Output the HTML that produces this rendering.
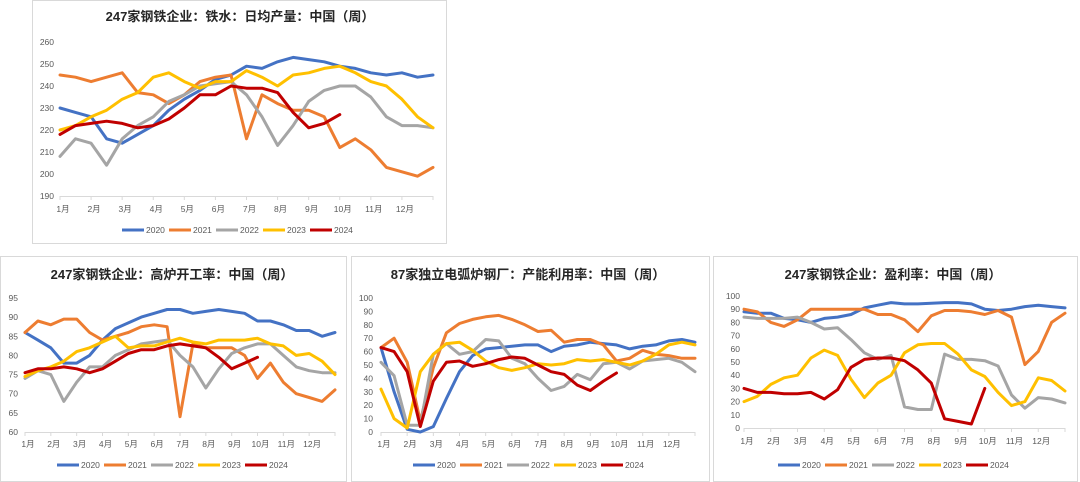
<!DOCTYPE html>
<html><head><meta charset="utf-8">
<style>
html,body{margin:0;padding:0;background:#fff;}
svg{display:block;font-family:"Liberation Sans","Noto Sans CJK SC",sans-serif;}
</style></head>
<body>
<svg id="root" width="1080" height="482" viewBox="0 0 1080 482"></svg>
<script>
// ---- shared data ----
const months = ['1月','2月','3月','4月','5月','6月','7月','8月','9月','10月','11月','12月'];
const seriesNames = ['2020','2021','2022','2023','2024'];
const seriesColors = ['#4472C4','#ED7D31','#A5A5A5','#FFC000','#C00000'];

// Chart 1: 铁水日均产量 (values at half-month steps)
const c1Ticks = [190,200,210,220,230,240,250,260];
const c1s2020 = [230,228,226,216,214,218,222,229,234,238,243,245,249,248,251,253,252,251,249,248,246,245,246,244,245];
const c1s2021 = [245,244,242,244,246,237,236,232,236,242,244,245,216,236,232,229,229,226,212,216,211,203,201,199,203];
const c1s2022 = [208,216,214,204,216,222,226,233,236,240,241,242,236,226,213,222,233,238,240,240,235,226,222,222,221];
const c1s2023 = [220,222,226,229,234,237,244,246,242,239,242,242,247,244,240,245,246,248,249,246,242,240,234,226,221];
const c1s2024 = [218,222,223,224,223,221,222,225,230,236,236,240,239,239,237,228,221,223,227];

// Chart 2: 高炉开工率
const c2Ticks = [60,65,70,75,80,85,90,95];
const c2s2020 = [86,84,82,78,78,80,84,87,88.5,90,91,92,92,91,91.5,92,91.5,91,89,89,88,86.5,86.5,85,86];
const c2s2021 = [86,89,88,89.5,89.5,86,84,85,86,87.5,88,87.5,64,83,82,82,82,80,74,78,73,70,69,68,71];
const c2s2022 = [74,76,75,68,73,77,77,80,81.5,83,83.5,84,80,77,71.5,76.5,80.5,82,83,83,80,77,76,75.5,75.5];
const c2s2023 = [74.5,76,77,78.5,81,82,83.5,85,82,82.5,82.5,83.5,84.5,83.5,83,84,84,84,84.5,83,82.5,80,80.5,78.5,75];
const c2s2024 = [75.5,76.5,76.5,77,76.5,75.5,76.5,78.5,80.5,81.5,81.5,82.5,83,82.5,82,79.5,76.5,78,79.5];

// Chart 3: 电弧炉产能利用率
const c3Ticks = [0,10,20,30,40,50,60,70,80,90,100];
const c3s2020 = [63,30,2,0,4,25,45,57,62,63,64,65,65,60,64,65,67,66,65,62,64,65,68,69,67];
const c3s2021 = [63,70,52,8,48,74,81,84,86,87,84,80,75,76,67,69,69,65,53,55,61,58,57,55,55];
const c3s2022 = [52,42,5,5,58,66,58,60,69,68,55,51,40,31,34,43,39,51,52,47,53,54,55,52,45];
const c3s2023 = [32,10,3,45,58,66,67,61,53,48,46,48,51,50,51,54,53,54,52,50,53,58,65,67,65];
const c3s2024 = [63,60,45,4,38,52,53,49,51,54,56,55,50,45,43,35,31,38,44];

// Chart 4: 盈利率
const c4Ticks = [0,10,20,30,40,50,60,70,80,90,100];
const c4s2020 = [88,87,87,83,82,80,83,84,86,91,93,95,94,94,94.5,95,95,94,90,89,90,92,93,92,91];
const c4s2021 = [90,88,80,77,82,90,90,90,90,90,86,86,82,73,85,89,89,88,86,89,84,48,58,80,87];
const c4s2022 = [84,83,83,83,84,80,75,76,67,57,52,55,16,14,14,56,52,52,51,47,25,15,23,22,19];
const c4s2023 = [20,24,33,38,40,53,59,55,37,23,34,40,57,63,64,64,56,44,39,27,17,20,38,36,28];
const c4s2024 = [30,27,27,26,26,27,22,29,46,52,53,53,51,44,34,7,5,3,30];

const NS='http://www.w3.org/2000/svg';
const root=document.getElementById('root');
function mk(tag,attrs,parent){const e=document.createElementNS(NS,tag);for(const k in attrs)e.setAttribute(k,attrs[k]);(parent||root).appendChild(e);return e;}

function drawChart(cfg){
  const g=mk('g',{});
  
  
  const panel=mk('rect',{x:cfg.px+0.5,y:cfg.py+0.5,width:cfg.pw,height:cfg.ph,fill:'#fff',stroke:'#d9d9d9','stroke-width':1},g);
  
  
  const t=mk('text',{x:cfg.tx,y:cfg.ty,'text-anchor':'middle','font-size':13,'font-weight':'bold',fill:'#262626'},g);
  t.textContent=cfg.title;
  
  
  const ymin=cfg.ticks[0], ymax=cfg.ticks[cfg.ticks.length-1];
  const sy=v=>cfg.y1+(cfg.y0-cfg.y1)*(ymax-v)/(ymax-ymin);
  const sx=m=>cfg.x0+(cfg.x1-cfg.x0)*m/12;
  cfg.ticks.forEach(v=>{
    const l=mk('text',{x:cfg.lx,y:sy(v)+3,'text-anchor':'end','font-size':8.5,fill:'#595959'},g);
    l.textContent=v;
    
    
  });
  const ax=mk('line',{x1:cfg.x0,x2:cfg.x1,y1:sy(ymin)+0.5,y2:sy(ymin)+0.5,stroke:'#d9d9d9','stroke-width':1},g);
  
  
  for(let i=0;i<=12;i++){
    const tk=mk('line',{x1:sx(i),x2:sx(i),y1:sy(ymin),y2:sy(ymin)+4,stroke:'#d9d9d9','stroke-width':1},g);
    
    
  }
  months.forEach((m,i)=>{
    const l=mk('text',{x:sx(i)+3,y:cfg.my,'text-anchor':'middle','font-size':8.5,fill:'#595959'},g);
    l.textContent=m;
    
    
  });
  cfg.series.forEach((arr,si)=>{
    const pts=arr.map((v,i)=>sx(i*0.5).toFixed(1)+','+sy(v).toFixed(1)).join(' ');
    const p=mk('polyline',{points:pts,fill:'none',stroke:seriesColors[si],'stroke-width':3,'stroke-linejoin':'round','stroke-linecap':'round'},g);
    
    
  });
  seriesNames.forEach((n,si)=>{
    const lx=cfg.legx+si*cfg.legw;
    const ln=mk('line',{x1:lx,x2:lx+22,y1:cfg.legy,y2:cfg.legy,stroke:seriesColors[si],'stroke-width':3},g);
    
    
    const tx=mk('text',{x:lx+24,y:cfg.legy+3,'font-size':8.5,fill:'#595959'},g);
    tx.textContent=n;
    
    
  });
}

drawChart({name:'hot-metal-output-chart',title:'247家钢铁企业：铁水：日均产量：中国（周）',px:32,py:0,pw:414,ph:243,tx:240,ty:21,
  x0:60,x1:433,y0:196,y1:42,lx:54,my:212,ticks:c1Ticks,legx:122,legw:47,legy:230,
  series:[c1s2020,c1s2021,c1s2022,c1s2023,c1s2024]});
drawChart({name:'blast-furnace-rate-chart',title:'247家钢铁企业：高炉开工率：中国（周）',px:0,py:256,pw:346,ph:225,tx:172,ty:279,
  x0:25,x1:335,y0:432,y1:298,lx:18,my:447,ticks:c2Ticks,legx:57,legw:47,legy:465,
  series:[c2s2020,c2s2021,c2s2022,c2s2023,c2s2024]});
drawChart({name:'eaf-utilization-chart',title:'87家独立电弧炉钢厂：产能利用率：中国（周）',px:351,py:256,pw:358,ph:225,tx:528,ty:279,
  x0:381,x1:695,y0:432,y1:298,lx:373,my:447,ticks:c3Ticks,legx:413,legw:47,legy:465,
  series:[c3s2020,c3s2021,c3s2022,c3s2023,c3s2024]});
drawChart({name:'profit-rate-chart',title:'247家钢铁企业：盈利率：中国（周）',px:713,py:256,pw:364,ph:225,tx:893,ty:279,
  x0:744,x1:1065,y0:428,y1:296,lx:740,my:444,ticks:c4Ticks,legx:778,legw:47,legy:465,
  series:[c4s2020,c4s2021,c4s2022,c4s2023,c4s2024]});
</script>
</body></html>
